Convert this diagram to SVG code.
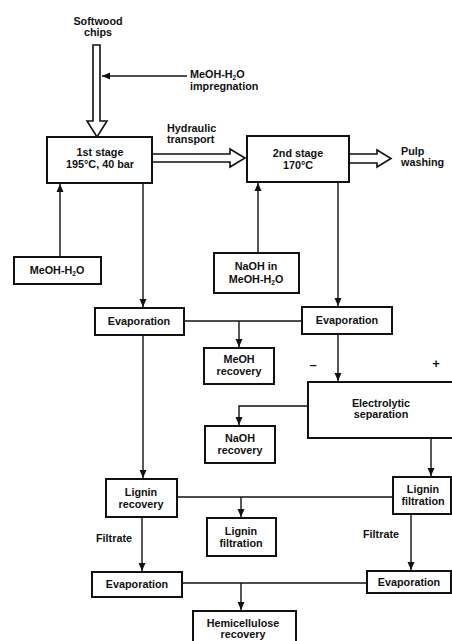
<svg xmlns="http://www.w3.org/2000/svg" width="452" height="641" viewBox="0 0 452 641">
<style>
text{font-family:"Liberation Sans",Arial,sans-serif;font-weight:bold;font-size:10.8px;fill:#111;}
.c{text-anchor:middle;}
.box{fill:#fff;stroke:#111;stroke-width:2;}
.ln{fill:none;stroke:#111;stroke-width:1.4;}
.lna{fill:none;stroke:#111;stroke-width:1.4;marker-end:url(#ah);}
.hol{fill:#fff;stroke:#111;stroke-width:1.6;stroke-linejoin:miter;}
.sub{font-size:6.5px;}
.sign{font-size:13px;}
</style>
<defs>
<marker id="ah" viewBox="0 0 8 10" refX="8" refY="5" markerWidth="8" markerHeight="10" markerUnits="userSpaceOnUse" orient="auto">
<path d="M0,1.5 L8,5 L0,8.5 Z" fill="#111"/>
</marker>
</defs>
<rect width="452" height="641" fill="#fff"/>

<g id="connectors">
<polygon class="hol" points="93,45 100,45 100,121 107,121 97,137 87,121 93,121"/>
<line class="lna" x1="187" y1="76" x2="102" y2="76"/>
<polygon class="hol" points="152,154 230,154 230,149 245,158 230,167 230,162 152,162"/>
<polygon class="hol" points="349,154 377,154 377,150 391,158.5 377,167 377,163 349,163"/>
<line class="lna" x1="60" y1="257" x2="60" y2="184"/>
<line class="lna" x1="143" y1="184" x2="143" y2="307"/>
<line class="lna" x1="258" y1="253" x2="258" y2="183"/>
<line class="lna" x1="338" y1="183" x2="338" y2="306"/>
<line class="ln" x1="184" y1="321" x2="302" y2="321"/>
<line class="lna" x1="239" y1="321" x2="239" y2="347"/>
<line class="lna" x1="338" y1="335" x2="338" y2="381"/>
<path class="lna" d="M308,406 L239,406 L239,425"/>
<line class="lna" x1="143" y1="336" x2="143" y2="478"/>
<line class="lna" x1="431" y1="439" x2="431" y2="476"/>
<line class="ln" x1="177" y1="497" x2="393" y2="497"/>
<line class="lna" x1="241" y1="497" x2="241" y2="517"/>
<line class="lna" x1="142" y1="518" x2="142" y2="571"/>
<line class="lna" x1="411" y1="515" x2="411" y2="570"/>
<line class="ln" x1="182" y1="583" x2="367" y2="583"/>
<line class="lna" x1="241" y1="583" x2="241" y2="610"/>
</g>

<g id="softwood">
<text class="c" x="98" y="25">Softwood</text>
<text class="c" x="98" y="36">chips</text>
</g>
<g id="impregnation">
<text x="190" y="78">MeOH-H<tspan class="sub" dy="1.5">2</tspan><tspan dy="-1.5">O</tspan></text>
<text x="190" y="90">impregnation</text>
</g>
<g id="hydraulic">
<text x="167" y="132">Hydraulic</text>
<text x="167" y="143">transport</text>
</g>
<g id="pulp">
<text x="401" y="155">Pulp</text>
<text x="401" y="166">washing</text>
</g>
<g id="stage1">
<rect class="box" x="47" y="137" width="105" height="46"/>
<text class="c" x="100" y="156">1st stage</text>
<text class="c" x="100" y="168">195°C, 40 bar</text>
</g>
<g id="stage2">
<rect class="box" x="247" y="136" width="102" height="46"/>
<text class="c" x="298" y="157">2nd stage</text>
<text class="c" x="298" y="169">170°C</text>
</g>
<g id="meoh-h2o">
<rect class="box" x="14" y="257" width="87" height="27"/>
<text class="c" x="57" y="274">MeOH-H<tspan class="sub" dy="1.5">2</tspan><tspan dy="-1.5">O</tspan></text>
</g>
<g id="naoh-in">
<rect class="box" x="214" y="253" width="85" height="40"/>
<text class="c" x="256" y="270">NaOH in</text>
<text class="c" x="256" y="283">MeOH-H<tspan class="sub" dy="1.5">2</tspan><tspan dy="-1.5">O</tspan></text>
</g>
<g id="evap1">
<rect class="box" x="95" y="308" width="89" height="27"/>
<text class="c" x="139" y="325">Evaporation</text>
</g>
<g id="evap2">
<rect class="box" x="302" y="307" width="90" height="27"/>
<text class="c" x="347" y="324">Evaporation</text>
</g>
<g id="meoh-recovery">
<rect class="box" x="204" y="348" width="70" height="36"/>
<text class="c" x="239" y="363">MeOH</text>
<text class="c" x="239" y="375">recovery</text>
</g>
<g id="electrolytic">
<text class="c sign" x="313" y="369">–</text>
<text class="c sign" x="436" y="368">+</text>
<rect class="box" x="308" y="382" width="150" height="56"/>
<text class="c" x="381" y="407">Electrolytic</text>
<text class="c" x="381" y="418">separation</text>
</g>
<g id="naoh-recovery">
<rect class="box" x="205" y="426" width="70" height="37"/>
<text class="c" x="240" y="442">NaOH</text>
<text class="c" x="240" y="454">recovery</text>
</g>
<g id="lignin-recovery">
<rect class="box" x="106" y="479" width="71" height="38"/>
<text class="c" x="141" y="496">Lignin</text>
<text class="c" x="141" y="508">recovery</text>
</g>
<g id="lignin-filtration-right">
<rect class="box" x="393" y="477" width="58" height="37"/>
<text class="c" x="423" y="493">Lignin</text>
<text class="c" x="423" y="505">filtration</text>
</g>
<g id="lignin-filtration-mid">
<rect class="box" x="207" y="518" width="69" height="38"/>
<text class="c" x="241" y="535">Lignin</text>
<text class="c" x="241" y="547">filtration</text>
</g>
<g id="filtrate-labels">
<text x="96" y="542">Filtrate</text>
<text x="363" y="538">Filtrate</text>
</g>
<g id="evap3">
<rect class="box" x="92" y="572" width="90" height="25"/>
<text class="c" x="137" y="588">Evaporation</text>
</g>
<g id="evap4">
<rect class="box" x="367" y="571" width="84" height="22"/>
<text class="c" x="409" y="586">Evaporation</text>
</g>
<g id="hemicellulose">
<rect class="box" x="193" y="611" width="103" height="40"/>
<text class="c" x="243" y="627">Hemicellulose</text>
<text class="c" x="243" y="638">recovery</text>
</g>
</svg>
